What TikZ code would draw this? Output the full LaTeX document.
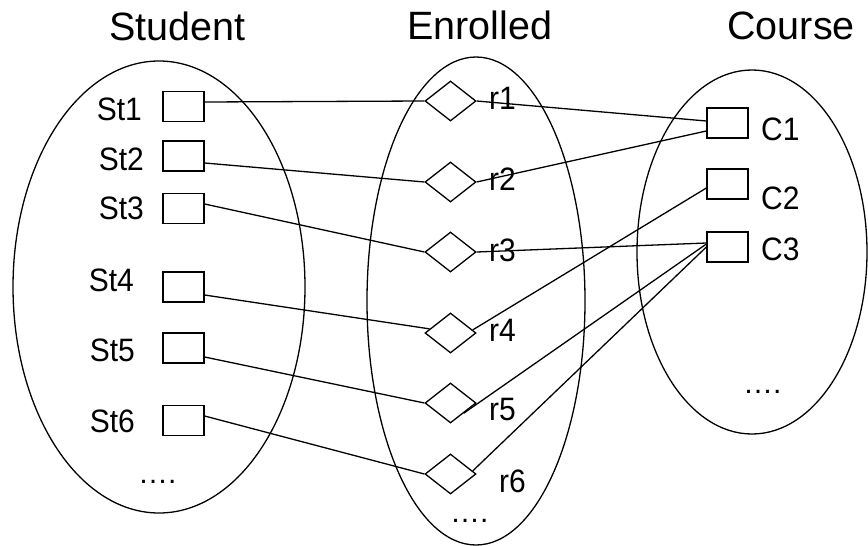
\documentclass[tikz,border=0pt]{standalone}
\usepackage{fontspec}
\usepackage{graphicx}
\setmainfont{Liberation Sans}
\usetikzlibrary{shapes.geometric,calc}
\newcommand\vstr[1]{\scalebox{1}[1.08]{#1}}
\begin{document}
\begin{tikzpicture}[x=1pt,y=-1pt,
 set/.style={draw, ellipse, inner sep=0pt, line width=1.3pt},
 ent/.style={draw, rectangle, minimum width=41pt, minimum height=30pt, inner sep=0pt, line width=1.3pt},
 rel/.style={draw, diamond, minimum width=51pt, minimum height=40pt, inner sep=0pt, line width=1.3pt},
 lbl/.style={inner sep=0pt, font=\fontsize{30}{30}\selectfont},
 ttl/.style={inner sep=0pt, font=\fontsize{39.5}{40}\selectfont},
 link/.style={line width=1.3pt}]
\useasboundingbox (0,0) rectangle (868,546);
% sets
\node[set, minimum width=292pt, minimum height=452pt] (S) at (159,287) {};
\node[set, minimum width=218pt, minimum height=488pt] (E) at (476,301) {};
\node[set, minimum width=230pt, minimum height=364pt] (C) at (752,252) {};
% titles
\node[ttl, anchor=base west] (tS) at (109,40) {Student};
\node[ttl, anchor=base west] (tE) at (407,39) {Enrolled};
\node[ttl, anchor=base east] (tC) at (855,39) {Course};
% students
\node[ent] (s1) at (183.5,106.5) {};
\node[ent] (s2) at (183.5,156) {};
\node[ent] (s3) at (183.5,208.5) {};
\node[ent] (s4) at (183.5,287) {};
\node[ent] (s5) at (183.5,348) {};
\node[ent] (s6) at (183.5,420.5) {};
% relationships
\node[rel] (r1) at (450.5,101) {};
\node[rel] (r2) at (450.5,182) {};
\node[rel] (r3) at (450.5,252) {};
\node[rel] (r4) at (450.5,333) {};
\node[rel] (r5) at (450.5,403) {};
\node[rel] (r6) at (450.5,474) {};
% courses
\node[ent] (c1) at (727.5,123) {};
\node[ent] (c2) at (727.5,184) {};
\node[ent] (c3) at (727.5,247) {};
% connectors student - enrolled
\draw[link] ([yshift=4.5pt]s1.east) -- (r1.west);
\draw[link] ([yshift=-7pt]s2.east) -- (r2.west);
\draw[link] ([yshift=4.5pt]s3.east) -- (r3.west);
\draw[link] ([yshift=-8pt]s4.east) -- ($(r4.west)!0.2!(r4.north)$);
\draw[link] ([yshift=-9pt]s5.east) -- (r5.west);
\draw[link] ([yshift=4.5pt]s6.east) -- (r6.west);
% connectors enrolled - course
\draw[link] (r1.east) -- ([yshift=2pt]c1.west);
\draw[link] (r2.east) -- ([yshift=-8pt]c1.west);
\draw[link] (r3.east) -- ([yshift=4pt]c3.west);
\draw[link] ([yshift=-4pt]c2.west) -- ($(r4.north)!0.85!(r4.east)$);
\draw[link] ([yshift=3pt]c3.west) -- ($(r5.east)!0.5!(r5.south)$);
\draw[link] (c3.west) -- ($(r6.north)!0.85!(r6.east)$);
% labels
\node[lbl, anchor=base east] (ls1) at (142,120) {\vstr{St1}};
\node[lbl, anchor=base east] (ls2) at (144,170) {\vstr{St2}};
\node[lbl, anchor=base east] (ls3) at (144,219) {\vstr{St3}};
\node[lbl, anchor=base east] (ls4) at (134,291) {\vstr{St4}};
\node[lbl, anchor=base east] (ls5) at (135,361) {\vstr{St5}};
\node[lbl, anchor=base east] (ls6) at (135,432) {\vstr{St6}};
\node[lbl, anchor=base west] (lr1) at (489,109) {\vstr{r1}};
\node[lbl, anchor=base west] (lr2) at (489,190) {\vstr{r2}};
\node[lbl, anchor=base west] (lr3) at (489,261) {\vstr{r3}};
\node[lbl, anchor=base west] (lr4) at (489,341) {\vstr{r4}};
\node[lbl, anchor=base west] (lr5) at (489,420) {\vstr{r5}};
\node[lbl, anchor=base west] (lr6) at (499,492) {\vstr{r6}};
\node[lbl, anchor=base west] (lc1) at (761,140) {\vstr{C1}};
\node[lbl, anchor=base west] (lc2) at (761,209) {\vstr{C2}};
\node[lbl, anchor=base west] (lc3) at (761,260) {\vstr{C3}};
% dots
\node[lbl, anchor=base west] (dS) at (138,483) {….};
\node[lbl, anchor=base west] (dE) at (450,522) {….};
\node[lbl, anchor=base west] (dC) at (743,393) {….};
\end{tikzpicture}
\end{document}
